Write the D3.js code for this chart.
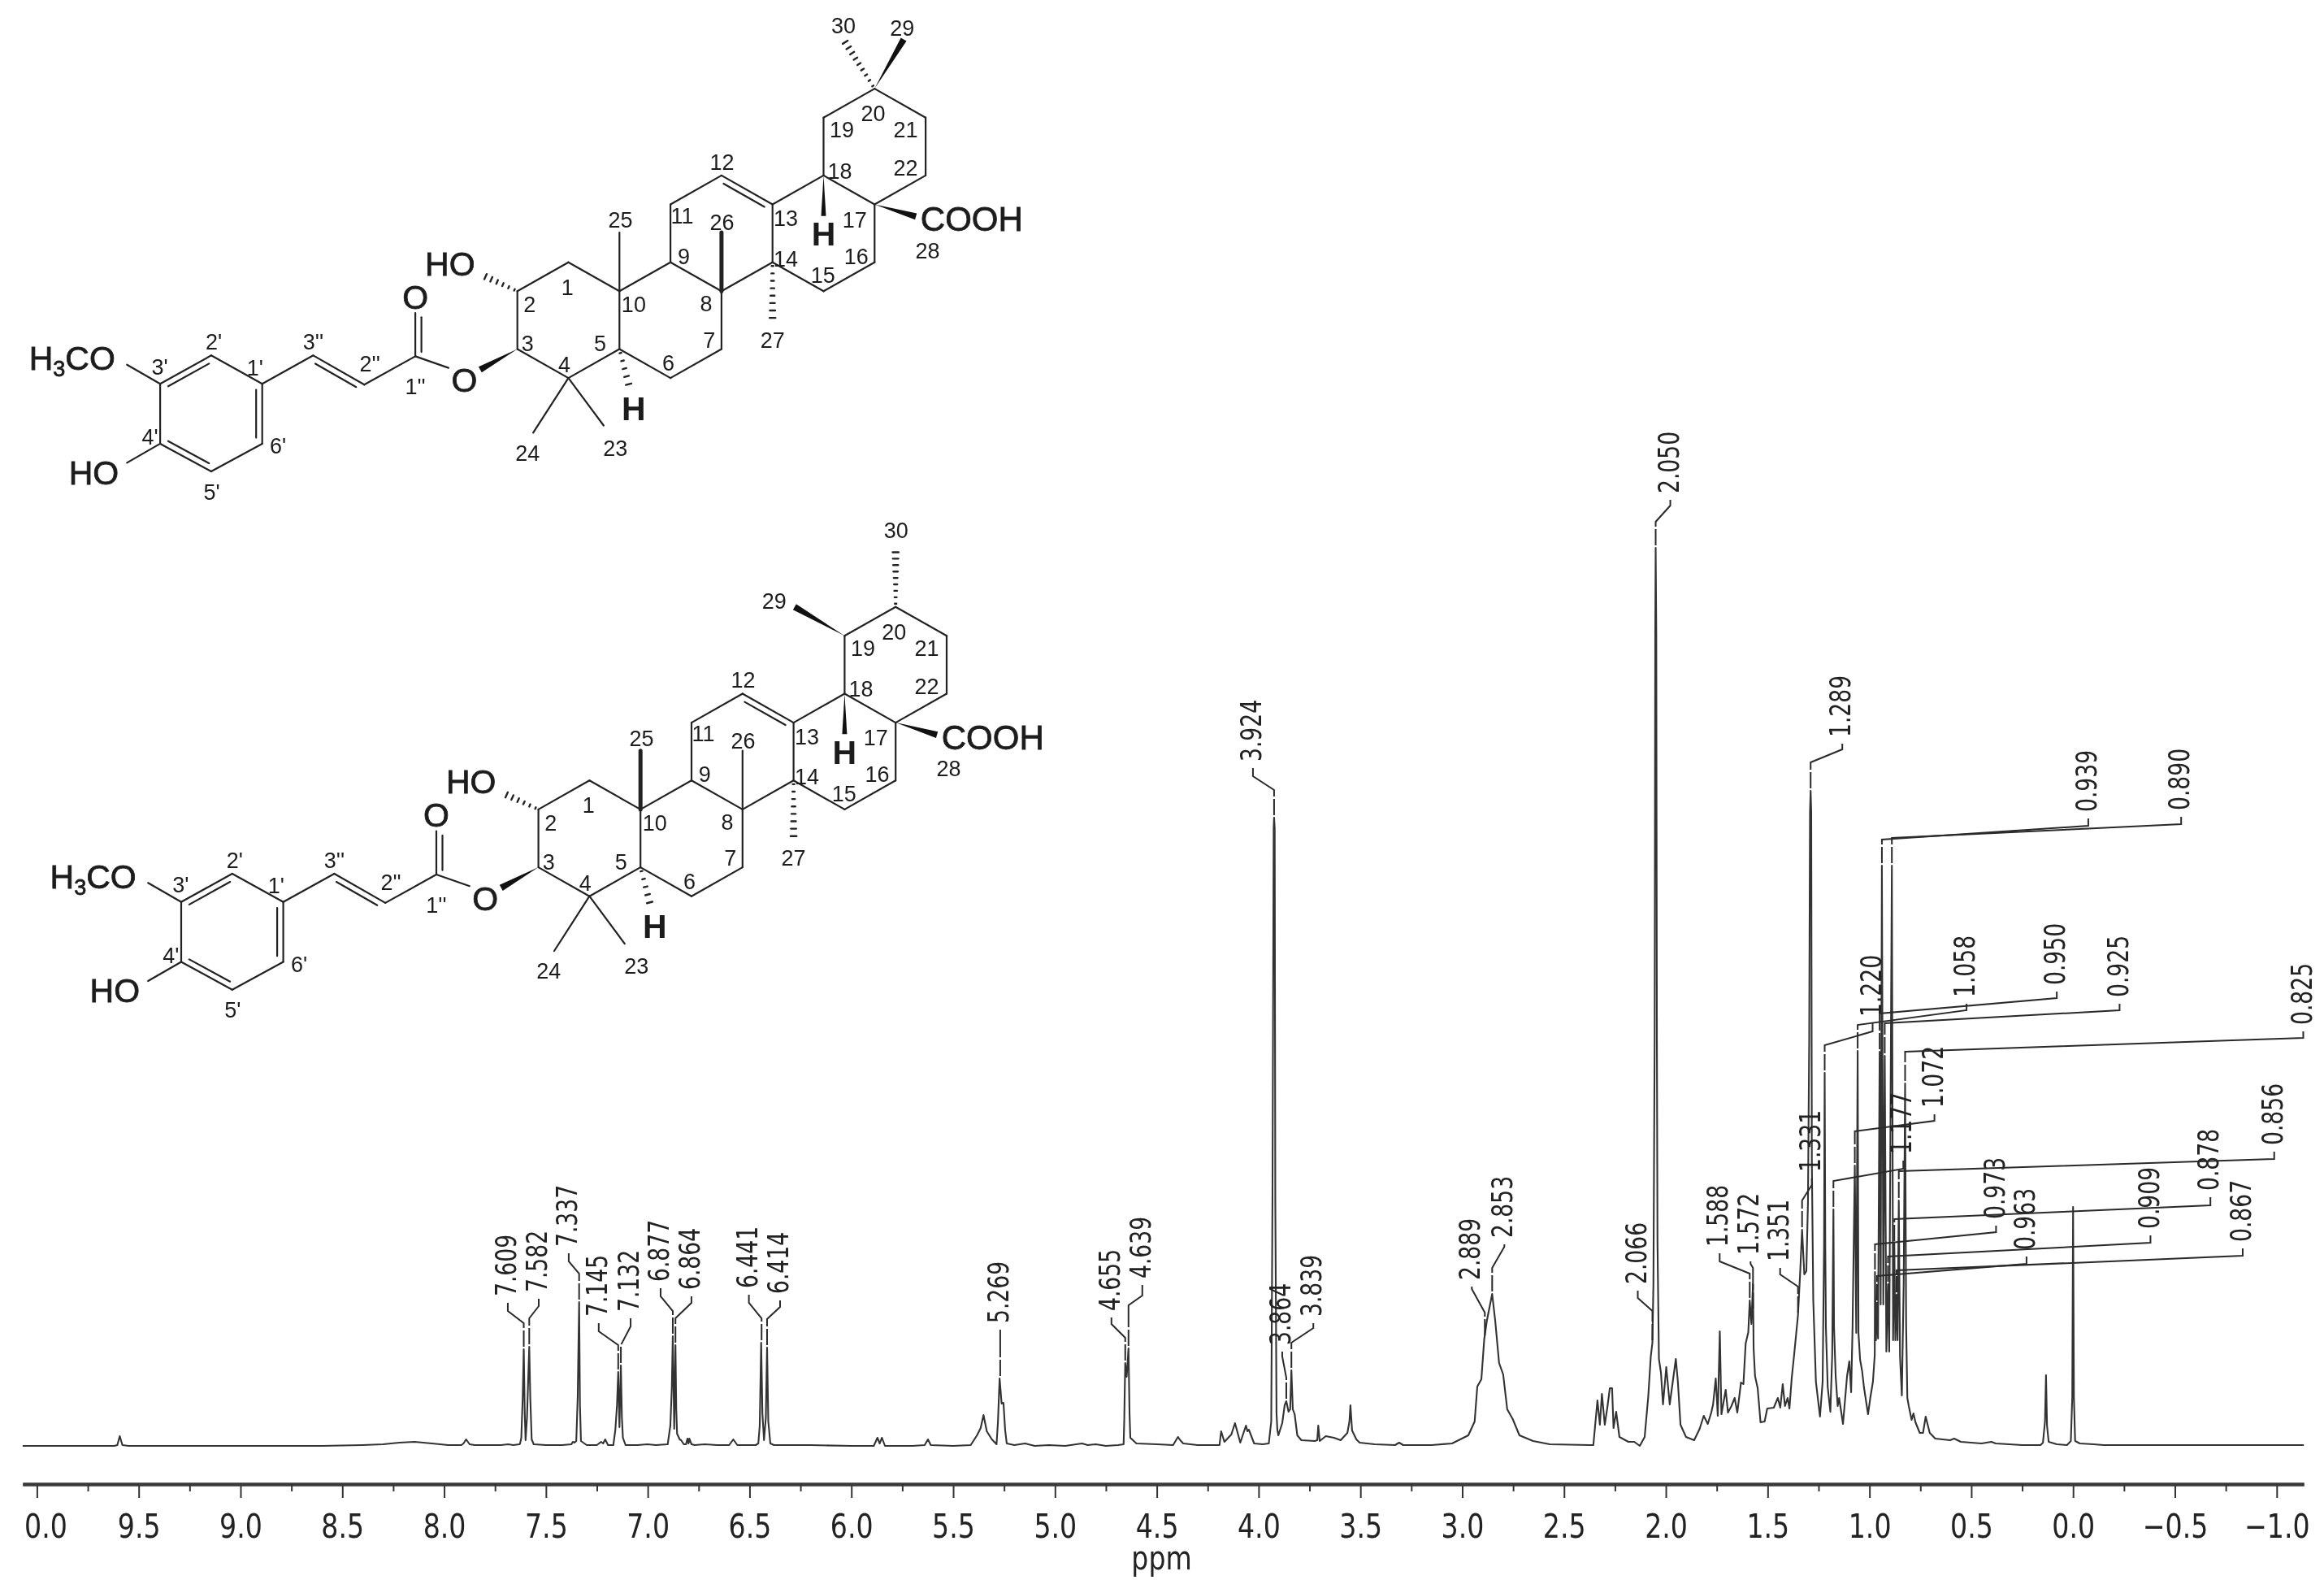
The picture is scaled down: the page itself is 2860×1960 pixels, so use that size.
<!DOCTYPE html>
<html>
<head>
<meta charset="utf-8">
<title>1H NMR spectrum</title>
<script src="https://cdn.jsdelivr.net/npm/d3@7"></script>
<style>
  html, body { margin: 0; background: #fff; }
  svg { display: block; filter: blur(.6px); }
  .scale text { font-family: "DejaVu Sans", sans-serif; fill: #222; }
  .mol text { font-family: "Liberation Sans", Arial, sans-serif; fill: #1c1c1c; }
</style>
</head>
<body>
<svg id="chart" width="2860" height="1960"></svg>
<script>
// ---- spectrum: [ppm, intensity] (arbitrary units, 2.050 peak ~ 1105)
const spectrum = [
  [10.07,0],[9.7,0],[9.62,0],[9.605,1],[9.593,12],[9.58,1],[9.55,0],[9.0,0],[8.6,0],[8.4,1],[8.3,2],[8.22,4],[8.145,5],[8.06,3],[7.98,1],[7.915,1],[7.905,3],[7.892,8],[7.875,2],[7.85,1],
  [7.72,1],[7.686,2],[7.66,1],[7.63,2],[7.627,3],[7.621,10],[7.614,60],[7.609,119],[7.604,40],[7.6,7],[7.593,35],[7.582,122],[7.577,60],[7.57,8],[7.56,2],[7.5,1],[7.42,1],
  [7.375,2],[7.368,5],[7.36,4],[7.351,6],[7.344,60],[7.337,177],[7.333,50],[7.328,6],[7.3,1],[7.25,1],[7.229,5],[7.219,3],[7.209,8],[7.195,1],[7.169,1],[7.159,20],[7.151,50],[7.145,91],[7.139,23],[7.132,99],[7.127,35],[7.122,10],[7.109,1],
  [7.05,1],[7.002,2],[6.96,1],[6.902,2],[6.889,25],[6.882,70],[6.877,135],[6.87,21],[6.864,124],[6.86,45],[6.856,15],[6.843,8],[6.836,7],[6.823,2],[6.812,2],[6.805,9],[6.8,3],[6.796,9],[6.785,2],[6.77,1],[6.72,2],[6.66,1],[6.6,1],[6.58,8],[6.56,1],
  [6.47,1],[6.457,3],[6.45,25],[6.443,127],[6.437,40],[6.429,7],[6.42,35],[6.414,121],[6.408,30],[6.398,3],[6.38,1],[6.2,1],[6.0,0],
  [5.89,0],[5.872,10],[5.861,3],[5.85,10],[5.835,0],[5.7,0],[5.64,1],[5.624,8],[5.61,1],[5.5,0],[5.414,1],[5.383,13],[5.365,22],[5.351,38],[5.335,18],[5.31,8],[5.287,2],[5.28,30],[5.272,83],[5.262,52],[5.253,53],[5.245,20],[5.237,3],[5.2,1],
  [5.147,3],[5.1,0],[5.03,1],[4.95,0],[4.867,3],[4.84,1],[4.8,2],[4.75,0],[4.69,1],[4.663,2],[4.66,30],[4.655,102],[4.648,85],[4.639,120],[4.634,40],[4.63,10],[4.6,3],[4.5,2],[4.42,1],[4.396,11],[4.385,7],[4.37,3],[4.3,1],[4.2,1],[4.192,1],
  [4.184,18],[4.168,5],[4.134,14],[4.116,28],[4.09,4],[4.062,25],[4.055,18],[4.048,20],[4.022,3],[3.98,2],[3.95,3],[3.938,30],[3.932,300],[3.926,760],[3.924,773],[3.921,760],[3.918,300],[3.912,40],[3.908,20],[3.903,13],[3.884,28],[3.872,50],[3.864,55],[3.853,42],[3.845,45],[3.839,93],[3.832,45],[3.823,39],[3.81,13],
  [3.79,7],[3.724,6],[3.712,7],[3.707,25],[3.7,6],[3.67,12],[3.63,10],[3.597,7],[3.564,16],[3.554,30],[3.549,50],[3.541,19],[3.52,8],[3.504,4],[3.43,2],[3.33,1],[3.31,4],[3.29,1],[3.15,1],[3.05,3],[2.97,13],[2.939,30],[2.926,73],[2.906,82],[2.892,131],[2.879,154],[2.853,187],[2.838,154],[2.819,102],[2.799,88],[2.779,45],[2.752,33],[2.719,13],[2.652,6],[2.57,2],[2.373,1],
  [2.356,1],[2.336,56],[2.324,26],[2.314,64],[2.3,26],[2.288,46],[2.275,71],[2.264,71],[2.257,22],[2.244,42],[2.228,11],[2.184,5],[2.155,5],[2.128,0],[2.104,11],[2.086,62],[2.074,110],[2.066,127],[2.061,200],[2.055,500],[2.052,1000],[2.05,1105],[2.047,1000],[2.044,500],[2.041,250],[2.034,107],
  [2.024,90],[2.014,51],[1.998,97],[1.981,51],[1.951,107],[1.941,79],[1.928,26],[1.901,11],[1.861,7],[1.834,21],[1.814,37],[1.794,27],[1.777,41],[1.768,51],[1.755,83],[1.745,37],[1.735,141],[1.727,39],[1.706,69],[1.695,41],[1.678,49],[1.662,59],[1.649,41],[1.631,78],[1.619,76],[1.608,126],[1.595,140],[1.588,179],[1.58,150],[1.572,199],[1.569,120],[1.562,86],[1.549,71],[1.535,29],[1.515,30],[1.502,46],[1.47,47],[1.45,59],[1.438,47],[1.426,76],[1.415,49],[1.402,59],[1.393,46],[1.382,83],[1.37,112],[1.351,161],[1.34,215],[1.331,266],[1.32,211],
  [1.31,215],[1.302,300],[1.296,500],[1.292,780],[1.289,806],[1.286,780],[1.283,350],[1.276,179],[1.263,79],[1.243,36],[1.23,79],[1.223,246],[1.22,459],[1.217,246],[1.214,146],[1.205,72],[1.192,42],[1.183,112],[1.177,291],[1.174,146],[1.166,86],[1.156,49],[1.149,59],[1.13,27],[1.11,86],[1.099,104],[1.09,66],[1.083,146],[1.072,345],[1.065,139],[1.058,486],[1.054,139],[1.046,106],[1.036,92],[1.027,72],[1.007,39],[.996,59],[.983,79],[.974,112],[.973,214],[.968,130],[.963,176],[.958,132],[.95,485],[.945,174],[.939,714],[.932,174],[.925,480],[.917,116],[.909,199],[.903,116],[.89,714],[.884,130],[.878,249],[.873,130],[.867,186],[.862,130],[.856,302],[.85,110],[.841,62],[.832,200],[.825,446],[.82,150],[.814,59],[.807,49],[.793,32],[.784,40],[.774,29],[.753,16],[.737,16],[.724,36],[.704,16],[.677,9],[.604,7],[.584,9],[.551,5],
  [.45,3],[.401,5],[.38,3],[.25,1],[.16,1],[.148,4],[.138,30],[.133,87],[.128,25],[.12,5],[.08,2],[.03,1],[.011,6],[.004,60],[0,294],[-.004,60],[-.01,6],[-.033,3],[-.1,2],[-.15,1],[-.6,1],[-1.133,1]
];

// ---- assigned peaks: value and intensity of the peak top
const peakPpm = [7.609,7.582,7.337,7.145,7.132,6.877,6.864,6.441,6.414,5.269,4.655,4.639,3.924,3.864,3.839,2.889,2.853,2.066,2.050,1.588,1.572,1.351,1.331,1.289,1.220,1.177,1.072,1.058,0.973,0.963,0.950,0.939,0.925,0.909,0.890,0.878,0.867,0.856,0.825];
const peakTop = [119,122,177,91,99,135,124,127,121,83,102,120,773,55,93,133,187,127,1105,179,166,161,266,806,459,291,345,486,214,176,485,714,480,199,714,249,186,302,446];

// ---- axis
const majorTicks = [10,9.5,9,8.5,8,7.5,7,6.5,6,5.5,5,4.5,4,3.5,3,2.5,2,1.5,1,0.5,0,-0.5,-1];
const minorTicks = [9.75,9.25,8.75,8.25,7.75,7.25,6.75,6.25,5.75,5.25,4.75,4.25,3.75,3.25,2.75,2.25,1.75,1.25,0.75,0.25,-0.25,-0.75];

// ---- leader layout for each peak: x shift of the label, then height of elbow, slant end, stub end
const leaderShift = [-19.6,11.7,-12.8,-24,12,-15,19.7,-15.6,16,0,-17,17,-26,-5,27,-16,15,-18,18,-37,-3,-22,12,39,59,86,98,134,149,184,218,254,289,323,356,389,426,462,490];
const leaderElbow = [151,157,212,124,124,166,157,157,156,143,133,173,807,84,127,164,219,166,1137,212,219,196,302,841,493,326,387,518,248,209,532,746,520,233,748,279,216,338,485];
const leaderSlant = [166,172,227,141,147,184,176,176,171,143,150,185,824,110,145,193,245,182,1157,227,224,211,321,857,510,341,400,536,263,224,551,763,536,250,765,296,234,353,502];
const leaderStub  = [176,181,237,151,157,194,184,186,179,143,158,198,834,116,151,196,248,191,1164,237,227,219,329,864,520,351,408,544,271,233,559,772,544,259,774,306,243,362,510];

const svg = d3.select('#chart');
const x = d3.scaleLinear().domain([10, -1]).range([45.4, 2801.8]);
const y = d3.scaleLinear().domain([0, 1110]).range([1779, 669]);

// ---- spectrum line
const gSpec = svg.append('g').attr('class', 'scale');
gSpec.append('path').datum(spectrum)
  .attr('fill', 'none').attr('stroke', '#333').attr('stroke-width', 2.1).attr('stroke-linejoin', 'round')
  .attr('d', d3.line().x(d => x(d[0])).y(d => y(d[1])));

// ---- leaders + rotated peak values
peakPpm.forEach((p, i) => {
  const xp = x(p), xl = xp + leaderShift[i];
  gSpec.append('path')
    .attr('fill', 'none').attr('stroke', '#2a2a2a').attr('stroke-width', 2)
    .attr('stroke-dasharray', '0 3 20 3 5000')
    .attr('d', d3.line()([[xp, y(peakTop[i])], [xp, y(leaderElbow[i])], [xl, y(leaderSlant[i])], [xl, y(leaderStub[i])]]));
  gSpec.append('text')
    .attr('transform', `translate(${xl - 2.5},${y(leaderStub[i]) - 8}) rotate(-90) scale(.76,1)`)
    .attr('dy', '.36em').attr('font-size', 35)
    .text(p.toFixed(3));
});

// ---- ppm axis
svg.append('defs').append('clipPath').attr('id', 'cut')
  .append('rect').attr('x', 27).attr('y', 1800).attr('width', 2833).attr('height', 160);
const gAxis = svg.append('g').attr('class', 'scale').attr('clip-path', 'url(#cut)');
const fullX = x.copy().domain([10.07, -1.133]).range([x(10.07), x(-1.133)]);
const axMajor = gAxis.append('g').attr('transform', 'translate(0,1826)')
  .call(d3.axisBottom(fullX).tickValues(majorTicks).tickSize(17).tickSizeOuter(0).tickFormat(d3.format('.1f')));
gAxis.append('g').attr('transform', 'translate(0,1826)')
  .call(d3.axisBottom(fullX).tickValues(minorTicks).tickSize(9).tickSizeOuter(0).tickFormat(''));
gAxis.selectAll('.domain').attr('stroke', '#3a3a3a').attr('stroke-width', 4);
gAxis.selectAll('.tick line').attr('stroke', '#333').attr('stroke-width', 2);
axMajor.selectAll('.tick text')
  .attr('y', 0).attr('dy', 0).attr('font-size', 41).attr('font-family', '"DejaVu Sans", sans-serif').attr('fill', '#222')
  .attr('transform', 'translate(0,65.5) scale(.81,1)');
svg.append('text').attr('class', 'axis-title')
  .attr('transform', `translate(${x(4.476)},1931) scale(.81,1)`)
  .attr('text-anchor', 'middle').attr('font-size', 41).attr('font-family', '"DejaVu Sans", sans-serif').attr('fill', '#222')
  .text('ppm');

// ---- molecule skeleton on a hex lattice (col, row)
const atoms = {
  C1:[1,4], C2:[0,3], C3:[0,1], C4:[1,0], C5:[2,1], C6:[3,0], C7:[4,1], C8:[4,3], C9:[3,4], C10:[2,3],
  C11:[3,6], C12:[4,7], C13:[5,6], C14:[5,4], C15:[6,3], C16:[7,4], C17:[7,6], C18:[6,7], C19:[6,9], C20:[7,10], C21:[8,9], C22:[8,7],
  Ca:[-2,.75], Cb:[-3,-.23], Cc:[-4,.78], P1:[-5,-.2], P2:[-6,.78], P3:[-7,-.2], P4:[-7,-2.27], P5:[-6,-3.23], P6:[-5,-2.27],
  Ocarb:[-2,2.25], Oest:[-1.35,.35], Owedge:[-.73,.29], OMe:[-7.65,.46], OHp:[-7.65,-2.93],
  Me25:[2,5.03], Me26:[4,5.03], Me27:[5,1.95], Me24:[.31,-1.89], Me23:[1.69,-1.64], H5:[2.2,-.35], OH2:[-.68,3.55], COOH:[7.81,5.58], H18:[6,5.6]
};
const bonds = [
  ['C1','C2'],['C2','C3'],['C3','C4'],['C4','C5'],['C5','C10'],['C10','C1'],['C5','C6'],['C6','C7'],['C7','C8'],['C8','C9'],['C9','C10'],
  ['C9','C11'],['C11','C12'],['C12','C13'],['C13','C14'],['C14','C8'],['C13','C18'],['C18','C17'],['C17','C16'],['C16','C15'],['C15','C14'],
  ['C18','C19'],['C19','C20'],['C20','C21'],['C21','C22'],['C22','C17'],
  ['Ca','Oest'],['Ca','Cb'],['Cb','Cc'],['Cc','P1'],['P1','P2'],['P2','P3'],['P3','P4'],['P4','P5'],['P5','P6'],['P6','P1'],['P3','OMe'],['P4','OHp'],
  ['C4','Me24'],['C4','Me23'],['Ca','Ocarb']
];
// double bonds: second line, side sets which way it is shifted
const doubles = [['C12','C13',1],['Cb','Cc',-1],['P2','P3',-1],['P4','P5',-1],['P6','P1',-1],['Ca','Ocarb',1]];

const ringLabels = [
  ['1',.98,3.15],['2',.24,2.55],['3',.2,1.2],['4',.92,.46],['5',1.62,1.2],['6',2.96,.52],['7',3.76,1.32],['8',3.7,2.58],['9',3.26,4.22],['10',2.28,2.55],
  ['11',3.23,5.62],['12',4.01,7.48],['13',5.26,5.53],['14',5.26,4.13],['15',5.99,3.55],['16',6.64,4.22],['17',6.61,5.48],['18',6.32,7.17],['19',6.36,8.58],['20',6.97,9.15],['21',7.61,8.58],['22',7.61,7.26],
  ['23',1.92,-2.41],['24',.2,-2.58],['25',2.02,5.46],['26',4.01,5.39],['27',5,1.32],['28',8.04,4.41],
  ["1''",-2,-.29],["2''",-2.89,.49],["3''",-4,1.26],["1'",-5.14,.37],["2'",-5.95,1.26],["3'",-7.01,.4],["4'",-7.2,-2.03],["5'",-5.99,-3.93],["6'",-4.69,-2.35]
];
const atomLabels = [['O',-2,2.81],['O',-1.04,-.06],['HO',-1.32,3.96],['HO',-8.3,-3.25]];

// the two isomers differ only in the E ring methyls and which of 25/26 is bold
const isomerA = {
  ox: 636.7, oy: 465.1, bold: [['C8','Me26']],
  plain: [['C10','Me25']],
  wedge: [[atoms.C20,[7.57,11.7]]], hash: [[atoms.C20,[6.39,11.7]]],
  labels: [['29',7.54,12.1],['30',6.39,12.2]]
};
const isomerB = {
  ox: 662.6, oy: 1102.7, bold: [['C10','Me25']],
  plain: [['C8','Me26']],
  wedge: [[atoms.C19,[5.02,10]]], hash: [[atoms.C20,[7,12]]],
  labels: [['29',4.62,10.2],['30',7.01,12.65]]
};

function drawMolecule(iso) {
  const g = svg.append('g').attr('class', 'mol');
  const col = d3.scaleLinear().domain([0, 1]).range([iso.ox, iso.ox + 62.8]);
  const row = d3.scaleLinear().domain([0, 1]).range([iso.oy, iso.oy - 35.6]);
  const pt = a => [col(a[0]), row(a[1])];
  const seg = (a, b, w) => g.append('line')
    .attr('x1', a[0]).attr('y1', a[1]).attr('x2', b[0]).attr('y2', b[1])
    .attr('stroke', '#222').attr('stroke-width', w).attr('stroke-linecap', 'round');

  bonds.concat(iso.plain).forEach(b => seg(pt(atoms[b[0]]), pt(atoms[b[1]]), 2.2));
  iso.bold.forEach(b => seg(pt(atoms[b[0]]), pt(atoms[b[1]]), 5));

  doubles.forEach(d => {
    const a = pt(atoms[d[0]]), b = pt(atoms[d[1]]);
    const dx = b[0] - a[0], dy = b[1] - a[1], L = Math.hypot(dx, dy);
    const nx = -dy / L * 7.5 * d[2], ny = dx / L * 7.5 * d[2];
    seg([a[0] + dx * .1 + nx, a[1] + dy * .1 + ny], [b[0] - dx * .1 + nx, b[1] - dy * .1 + ny], 2.2);
  });

  const wedge = (a, b, w) => {
    const dx = b[0] - a[0], dy = b[1] - a[1], L = Math.hypot(dx, dy);
    const nx = -dy / L * w, ny = dx / L * w;
    g.append('path').attr('fill', '#111')
      .attr('d', d3.line()([a, [b[0] + nx, b[1] + ny], [b[0] - nx, b[1] - ny]]) + 'Z');
  };
  const hash = (a, b, w, n) => {
    const dx = b[0] - a[0], dy = b[1] - a[1], L = Math.hypot(dx, dy);
    const nx = -dy / L, ny = dx / L;
    d3.range(n).forEach(i => {
      const t = (i + .5) / n, cx = a[0] + dx * t, cy = a[1] + dy * t, h = .8 + w * t;
      seg([cx - nx * h, cy - ny * h], [cx + nx * h, cy + ny * h], 2.4);
    });
  };

  wedge(pt(atoms.C3), pt(atoms.Owedge), 4);
  wedge(pt(atoms.C17), pt(atoms.COOH), 4);
  wedge(pt(atoms.C18), pt(atoms.H18), 3);
  iso.wedge.forEach(w => wedge(pt(w[0]), pt(w[1]), 4));
  hash(pt(atoms.C14), pt(atoms.Me27), 3, 8);
  hash(pt(atoms.C5), pt(atoms.H5), 3, 5);
  hash(pt(atoms.C2), pt(atoms.OH2), 3, 6);
  iso.hash.forEach(h => hash(pt(h[0]), pt(h[1]), 3, 9));

  ringLabels.concat(iso.labels).forEach(l => {
    g.append('text').attr('x', col(l[1])).attr('y', row(l[2])).attr('dy', '.36em')
      .attr('text-anchor', 'middle').attr('font-size', 27).text(l[0]);
  });
  // big atom symbols sit a little heavier than the numbers
  const big = sel => sel.attr('stroke', '#1c1c1c').attr('stroke-width', .8);
  atomLabels.forEach(l => {
    big(g.append('text').attr('x', col(l[1])).attr('y', row(l[2])).attr('dy', '.36em')
      .attr('text-anchor', 'middle').attr('font-size', 41).text(l[0]));
  });
  g.append('text').attr('x', col(6)).attr('y', row(4.99)).attr('dy', '.36em')
    .attr('text-anchor', 'middle').attr('font-size', 41).attr('font-weight', 'bold').text('H');
  g.append('text').attr('x', col(2.28)).attr('y', row(-1.03)).attr('dy', '.36em')
    .attr('text-anchor', 'middle').attr('font-size', 41).attr('font-weight', 'bold').text('H');
  big(g.append('text').attr('x', col(7.9)).attr('y', row(5.5)).attr('dy', '.36em')
    .attr('font-size', 42).text('COOH'));
  const me = big(g.append('text').attr('x', col(-9.57)).attr('y', row(.69)).attr('dy', '.36em').attr('font-size', 41));
  me.append('tspan').text('H');
  me.append('tspan').attr('font-size', 27).attr('dy', 8).text('3');
  me.append('tspan').attr('dy', -8).text('CO');
}
drawMolecule(isomerA);
drawMolecule(isomerB);
</script>
</body>
</html>
